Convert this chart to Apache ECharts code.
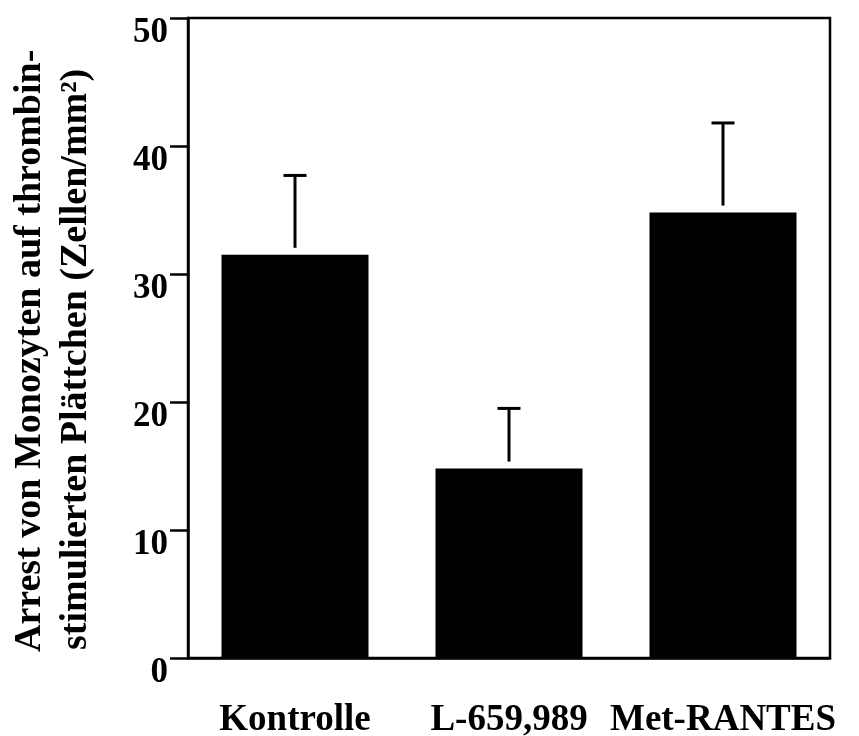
<!DOCTYPE html>
<html>
<head>
<meta charset="utf-8">
<script src="https://cdn.jsdelivr.net/npm/echarts@6/dist/echarts.min.js"></script>
<style>
html,body{margin:0;padding:0;background:#ffffff;}
#chart{width:859px;height:736px;}
</style>
</head>
<body>
<div id="chart"></div>
<script>
var categories = ['Kontrolle', 'L-659,989', 'Met-RANTES'];
var means = [31.5, 14.8, 34.8];
var errorTops = [37.7, 19.5, 41.8];
var yTicks = [0, 10, 20, 30, 40, 50];
var titleLine1 = 'Arrest von Monozyten auf thrombin-';
var titleLine2 = 'stimulierten Plättchen (Zellen/mm²)';

var FONT = '"Liberation Serif", "Times New Roman", serif';
var chart = echarts.init(document.getElementById('chart'));

var errData = categories.map(function (c, i) { return [i, means[i], errorTops[i]]; });

chart.setOption({
  backgroundColor: '#ffffff',
  animation: false,
  grid: {
    left: 188, right: 29, top: 18, bottom: 78,
    outerBoundsMode: 'none', containLabel: false,
    show: true, borderColor: '#000', borderWidth: 2.5, backgroundColor: 'transparent'
  },
  xAxis: {
    type: 'category',
    data: categories,
    boundaryGap: true,
    axisLine: { lineStyle: { color: '#000', width: 2.5 } },
    axisTick: { alignWithLabel: true, length: 18, lineStyle: { color: '#000', width: 2.5 } },
    axisLabel: { interval: 0, hideOverlap: false, color: '#000', fontFamily: FONT, fontWeight: 'bold', fontSize: 37, margin: 44 }
  },
  yAxis: {
    type: 'value',
    min: yTicks[0], max: yTicks[yTicks.length - 1], interval: 10,
    splitLine: { show: false },
    axisLine: { show: true, lineStyle: { color: '#000', width: 2.5 } },
    axisTick: { show: true, length: 18, lineStyle: { color: '#000', width: 2.5 } },
    axisLabel: {
      color: '#000', fontFamily: FONT, fontWeight: 'bold', fontSize: 35,
      margin: 20, verticalAlign: 'top', lineHeight: 30, padding: [0, 0, 0, 0]
    }
  },
  graphic: [
    {
      type: 'text', x: 30, y: 652, rotation: Math.PI / 2,
      style: { text: titleLine1, fill: '#000', font: 'bold 38px ' + FONT, textAlign: 'left', textVerticalAlign: 'middle' }
    },
    {
      type: 'text', x: 76, y: 650, rotation: Math.PI / 2,
      style: { text: titleLine2, fill: '#000', font: 'bold 38px ' + FONT, textAlign: 'left', textVerticalAlign: 'middle' }
    }
  ],
  series: [
    {
      type: 'bar',
      data: means,
      barWidth: 147,
      itemStyle: { color: '#000' },
      z: 2
    },
    {
      type: 'custom',
      data: errData,
      z: 3,
      renderItem: function (params, api) {
        var x = api.value(0);
        var lo = api.coord([x, api.value(1)]);
        var hi = api.coord([x, api.value(2)]);
        var half = 11.5;
        var st = { stroke: '#000', lineWidth: 3, fill: null };
        return {
          type: 'group',
          children: [
            { type: 'line', shape: { x1: lo[0], y1: lo[1] - 7, x2: hi[0], y2: hi[1] }, style: st },
            { type: 'line', shape: { x1: hi[0] - half, y1: hi[1], x2: hi[0] + half, y2: hi[1] }, style: st }
          ]
        };
      }
    }
  ]
});
</script>
</body>
</html>
